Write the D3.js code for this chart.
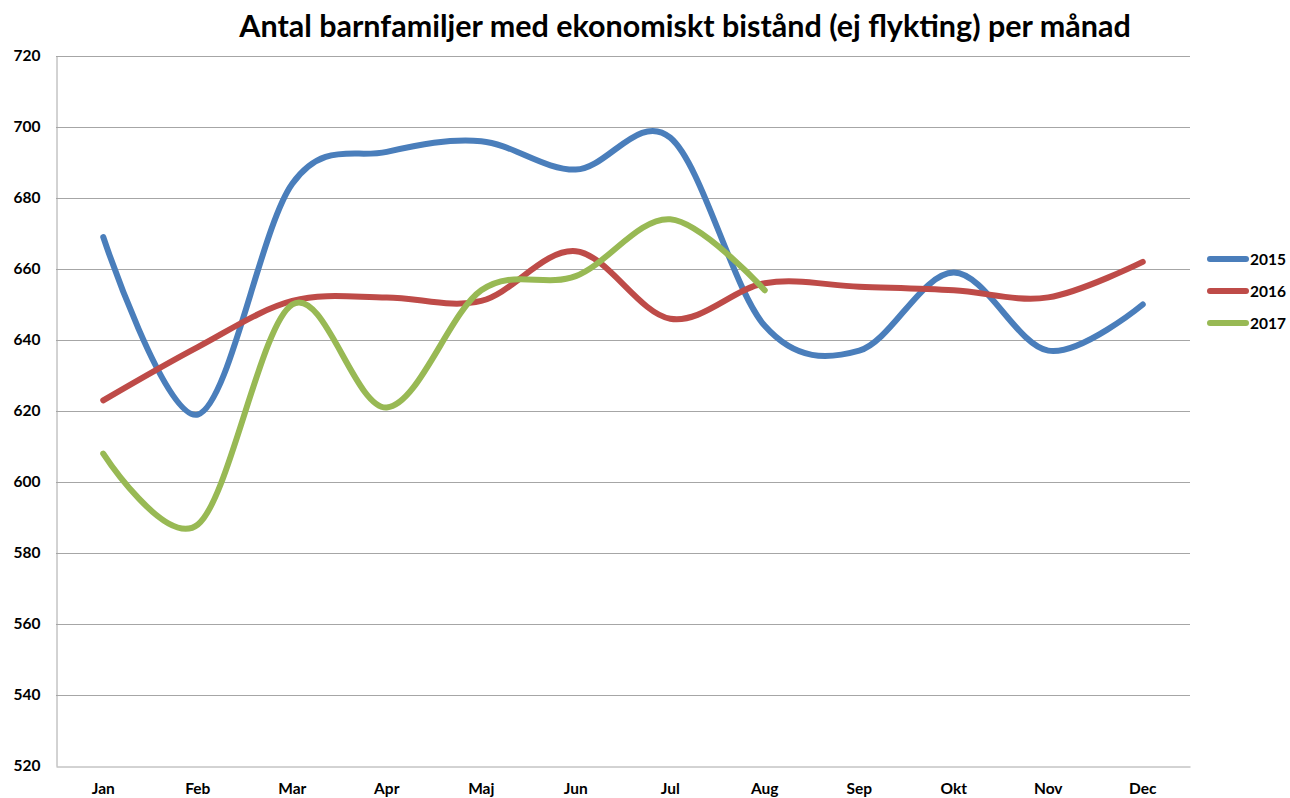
<!DOCTYPE html>
<html>
<head>
<meta charset="utf-8">
<script src="https://cdn.jsdelivr.net/npm/d3@7"></script>
<style>
body { margin: 0; background: #fff; }
svg { display: block; }
text { font-family: Lato, "Open Sans", sans-serif; font-weight: bold; fill: #000; }
</style>
</head>
<body>
<svg id="chart" width="1290" height="798"></svg>
<script>
const months = ["Jan","Feb","Mar","Apr","Maj","Jun","Jul","Aug","Sep","Okt","Nov","Dec"];
const values2015 = [669, 619, 684, 693, 696, 688, 697, 644, 637, 659, 637, 650];
const values2016 = [623, 638, 651, 652, 651, 665, 646, 656, 655, 654, 652, 662];
const values2017 = [608, 588, 650, 621, 654, 658, 674, 654];
const seriesNames = ["2015", "2016", "2017"];
const seriesColors = ["#4A7EBB", "#BE4B48", "#98B954"];
const yTicks = [520, 540, 560, 580, 600, 620, 640, 660, 680, 700, 720];
const title = "Antal barnfamiljer med ekonomiskt bistånd (ej flykting) per månad";

const series = [values2015, values2016, values2017];
const svg = d3.select("#chart");
const plot = { left: 56, right: 1190, top: 56, bottom: 766 };

const x = d3.scaleBand().domain(months).range([plot.left, plot.right]);
const y = d3.scaleLinear().domain([520, 720]).range([plot.bottom, plot.top]);

// gridlines
svg.append("g").selectAll("line").data(yTicks.slice(1)).join("line")
  .attr("x1", plot.left).attr("x2", plot.right)
  .attr("y1", d => y(d) + 0.5).attr("y2", d => y(d) + 0.5)
  .attr("stroke", "#A6A6A6").attr("stroke-width", 1);

// y axis
const yAxis = svg.append("g").attr("transform", `translate(${plot.left + 0.5},0)`)
  .call(d3.axisLeft(y).tickValues(yTicks).tickSize(0).tickPadding(16));
yAxis.select(".domain").attr("stroke", "#A6A6A6");
yAxis.selectAll("text").style("font-size", "15.5px").style("font-family", "Lato, sans-serif").style("font-weight", "bold");

// x axis
const xAxis = svg.append("g").attr("transform", `translate(0,${plot.bottom + 0.5})`)
  .call(d3.axisBottom(x).tickSize(0).tickPadding(16));
xAxis.select(".domain").attr("stroke", "#A6A6A6");
xAxis.selectAll("text").style("font-size", "15.5px").style("font-family", "Lato, sans-serif").style("font-weight", "bold");

// lines
const line = d3.line()
  .x((d, i) => x(months[i]) + x.bandwidth() / 2)
  .y(d => y(d))
  .curve(d3.curveCatmullRom.alpha(0));

svg.append("g").selectAll("path").data(series).join("path")
  .attr("d", d => line(d))
  .attr("fill", "none")
  .attr("stroke", (d, i) => seriesColors[i])
  .attr("stroke-width", 6)
  .attr("stroke-linecap", "round")
  .attr("stroke-linejoin", "round");

// title
svg.append("text")
  .attr("x", 685).attr("y", 37)
  .attr("text-anchor", "middle")
  .style("font-size", "30.5px")
  .text(title);

// legend
const legend = svg.append("g").selectAll("g").data(seriesNames).join("g")
  .attr("transform", (d, i) => `translate(1210,${259 + i * 32})`);
legend.append("line")
  .attr("x1", 0).attr("x2", 36).attr("y1", 0).attr("y2", 0)
  .attr("stroke", (d, i) => seriesColors[i])
  .attr("stroke-width", 6).attr("stroke-linecap", "round");
legend.append("text")
  .attr("x", 40).attr("y", 5.5)
  .style("font-size", "15.5px")
  .text(d => d);
</script>
</body>
</html>
